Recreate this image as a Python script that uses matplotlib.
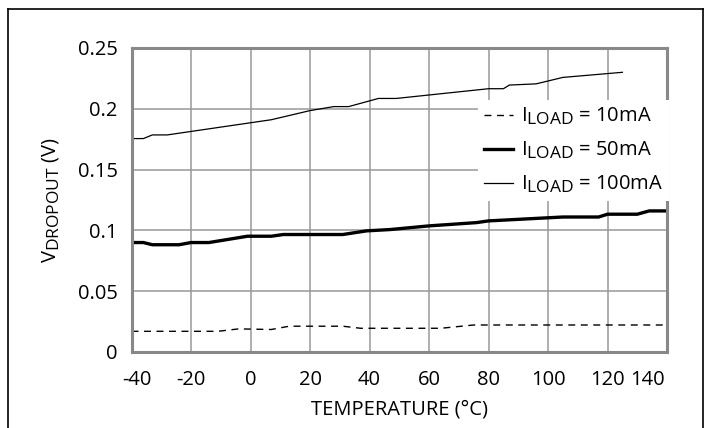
import matplotlib
matplotlib.use("Agg")
import matplotlib.pyplot as plt
import matplotlib.transforms as mtransforms
import matplotlib._mathtext as mathtext_internal
from matplotlib.lines import Line2D

plt.rcParams['font.family'] = ['Open Sans', 'DejaVu Sans']
plt.rcParams['mathtext.fontset'] = 'custom'
plt.rcParams['mathtext.rm'] = 'Open Sans'
plt.rcParams['axes.unicode_minus'] = False
# the original uses big subscripts (LOAD, DROPOUT)
mathtext_internal.SHRINK_FACTOR = 0.86

# data
temp_10 = [-40, -11, -4, 7, 13, 31, 37, 64, 75, 140]
vdrop_10 = [0.0170, 0.0170, 0.0190, 0.0185, 0.0212, 0.0212, 0.0195, 0.0195, 0.0222, 0.0222]

temp_50 = [-40, -36, -33, -24, -20, -14, -1, 7, 11, 31, 39, 47, 60, 76, 80, 105, 117, 120, 130, 134, 140]
vdrop_50 = [0.0900, 0.0900, 0.0882, 0.0882, 0.0900, 0.0900, 0.0952, 0.0952, 0.0966, 0.0966,
            0.0996, 0.1007, 0.1037, 0.1064, 0.1078, 0.1110, 0.1110, 0.1133, 0.1133, 0.1160, 0.1160]

temp_100 = [-40, -36, -33, -28, 7, 20, 28, 33, 43, 49, 80, 85, 87, 96, 105, 125]
vdrop_100 = [0.1755, 0.1755, 0.1785, 0.1785, 0.1910, 0.1985, 0.2018, 0.2018, 0.2085, 0.2085,
             0.2165, 0.2165, 0.2195, 0.2205, 0.2258, 0.2300]

labels = [r'$\mathregular{I_{LOAD}}$ = 10mA', r'$\mathregular{I_{LOAD}}$ = 50mA', r'$\mathregular{I_{LOAD}}$ = 100mA']
xticks = [-40, -20, 0, 20, 40, 60, 80, 100, 120, 140]
yticks = [0, 0.05, 0.1, 0.15, 0.2, 0.25]
ytick_labels = ['0', '0.05', '0.1', '0.15', '0.2', '0.25']

fs = 14.5

fig = plt.figure(figsize=(7.09, 4.28), dpi=100)
ax = fig.add_axes([0.1855, 0.1776, 0.7553, 0.7103])

ax.plot(temp_10, vdrop_10, color='black', lw=1.0, ls=(0, (5, 4)), label=labels[0])
ax.plot(temp_50, vdrop_50, color='black', lw=2.4, label=labels[1])
ax.plot(temp_100, vdrop_100, color='black', lw=0.9, label=labels[2])

ax.set_xlim(-40, 140)
ax.set_ylim(0, 0.25)
ax.set_xticks(xticks)
ax.set_yticks(yticks)
ax.set_yticklabels(ytick_labels)
ax.tick_params(length=0, labelsize=fs)
ax.tick_params(axis='y', pad=10)
ax.tick_params(axis='x', pad=13)
ax.grid(True, color='#999999', lw=1.1)
for sp in ax.spines.values():
    sp.set_color('#888888')
    sp.set_linewidth(2.2)

ax.set_xlabel('TEMPERATURE (°C)', fontsize=fs, labelpad=7)
ax.set_ylabel(r'$\mathregular{V_{DROPOUT}}$ (V)', fontsize=fs, labelpad=12)

# nudge the end x tick labels inward like the original
xlabs = ax.get_xticklabels()
xlabs[0].set_transform(xlabs[0].get_transform() + mtransforms.ScaledTranslation(4/72, 0, fig.dpi_scale_trans))
xlabs[-1].set_transform(xlabs[-1].get_transform() + mtransforms.ScaledTranslation(-14/72, 0, fig.dpi_scale_trans))

leg = ax.legend(loc='upper right', bbox_to_anchor=(1.008, 0.835), fontsize=fs, frameon=True,
                fancybox=False, framealpha=1, edgecolor='none', facecolor='white',
                handlelength=1.45, handletextpad=0.4, labelspacing=0.62, borderpad=0.3,
                borderaxespad=0.1)

# outer frame (no bottom edge)
for xs, ys in [([0.011, 0.011], [0, 0.979]), ([0.011, 0.992], [0.979, 0.979]), ([0.992, 0.992], [0, 0.979])]:
    fig.add_artist(Line2D(xs, ys, color='black', lw=1.2, transform=fig.transFigure))

fig.savefig('out.png', dpi=100)
